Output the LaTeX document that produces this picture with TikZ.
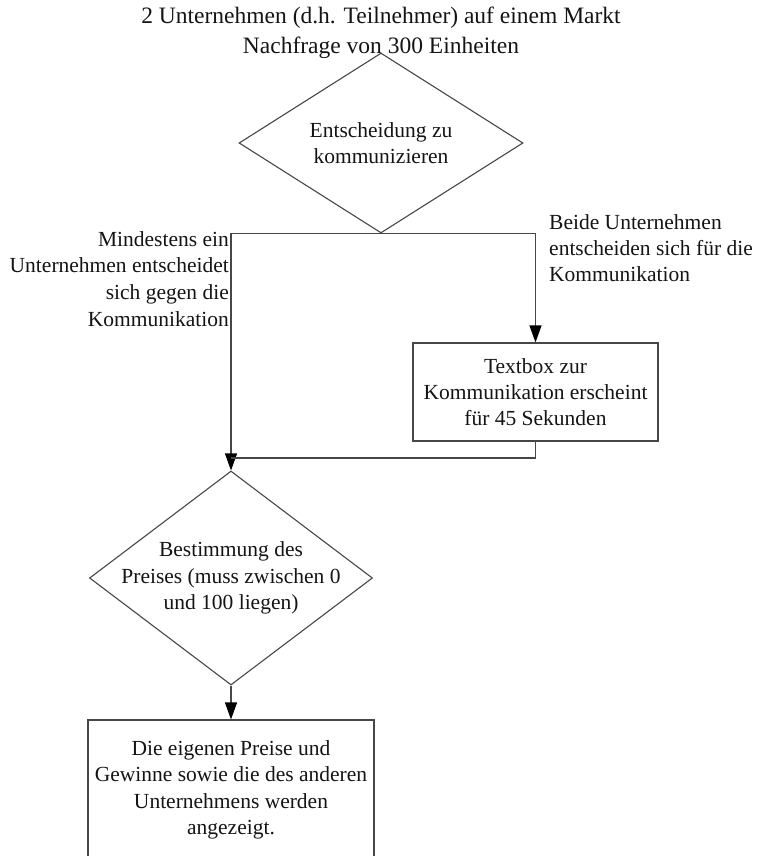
\documentclass[tikz,border=0pt]{standalone}
\usepackage{fontspec}
\setmainfont{Liberation Serif}
\usetikzlibrary{arrows.meta,shapes.geometric}
\begin{document}
\begin{tikzpicture}[x=1pt,y=-1pt,
 line/.style={draw=black!72,line width=1.1pt},
 arr/.style={line,-{Triangle[length=17pt,width=12pt,color=black,fill=black]}},
 txt/.style={text=black!92,font=\fontsize{21.5}{26.3}\selectfont,align=center,inner sep=0pt},
 dec/.style={diamond,line,inner sep=0pt},
 box/.style={rectangle,line,inner sep=0pt}]
\useasboundingbox (0,0) rectangle (758,856);
\clip (0,0) rectangle (758,856);
\node[txt,font=\fontsize{23.5}{30}\selectfont] (title) at (381,33) {2 Unternehmen (d.h. Teilnehmer) auf einem Markt\\Nachfrage von 300 Einheiten};
\node[dec,minimum width=284pt,minimum height=180pt] (d1) at (381,143) {};
\node[txt] (d1t) at (d1.center) {Entscheidung zu\\kommunizieren};
\node[box,txt,minimum width=245pt,minimum height=98pt] (tb) at (535.5,392) {Textbox zur\\Kommunikation erscheint\\für 45 Sekunden};
\node[dec,minimum width=283pt,minimum height=214pt] (d2) at (231,578) {};
\node[txt] (d2t) at (d2.center) {Bestimmung des\\Preises (muss zwischen 0\\und 100 liegen)};
\node[box,minimum width=286pt,minimum height=160pt] (bx) at (231,800) {};
\node[txt] (bxt) at (231,790) {Die eigenen Preise und\\Gewinne sowie die des anderen\\Unternehmens werden\\angezeigt.};
\coordinate (j) at (231,458);
\draw[arr] (d1.south) -| (d2.north);
\draw[arr] (d1.south) -| (tb.north);
\draw[line] (tb.south) |- (j);
\draw[arr] (d2.south) -- (bx.north);
\node[txt,font=\fontsize{21.5}{26.7}\selectfont,align=right,anchor=north east] (lno) at (229,231) {Mindestens ein\\Unternehmen entscheidet\\sich gegen die\\Kommunikation};
\node[txt,align=left,anchor=north west] (lyes) at (549,214) {Beide Unternehmen\\entscheiden sich für die\\Kommunikation};
\end{tikzpicture}
\end{document}
